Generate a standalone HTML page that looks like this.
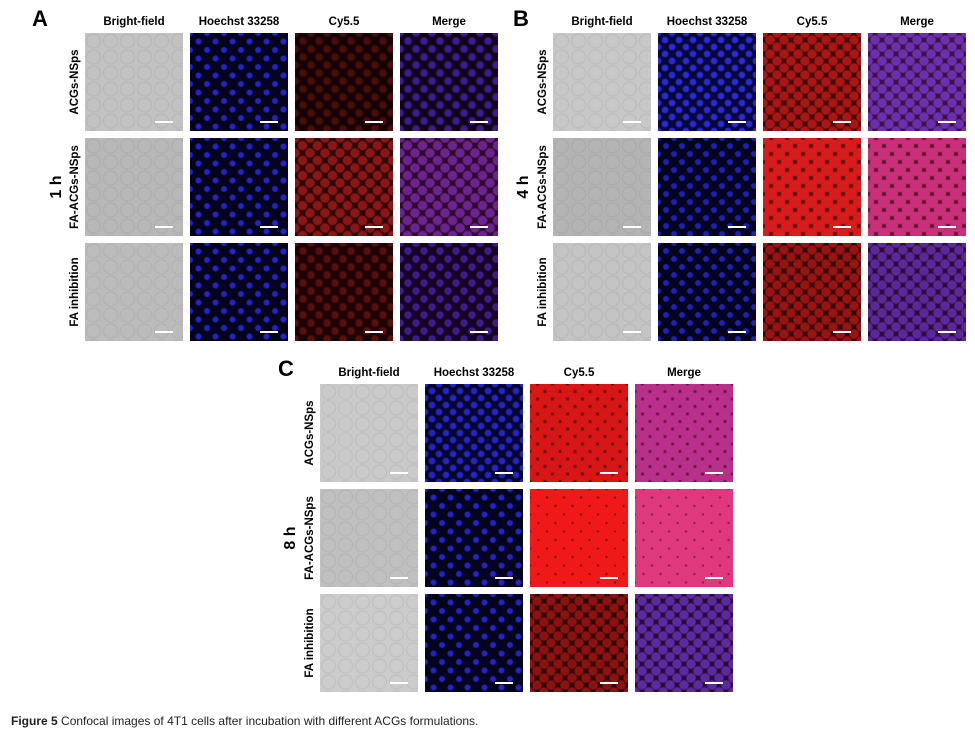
<!DOCTYPE html>
<html><head><meta charset="utf-8"><style>
body{margin:0;width:975px;height:732px;background:#fff;position:relative;overflow:hidden;font-family:"Liberation Sans",Arial,sans-serif}
.p{position:absolute;width:98px;height:98px}
.sb{position:absolute;right:10px;bottom:8px;width:18px;height:2px;background:#fff}
.h{position:absolute;font-weight:bold;font-size:11.5px;text-align:center;width:98px}
.L{position:absolute;font-weight:bold;font-size:22px}
.r{position:absolute;font-weight:bold;font-size:11.5px;transform:translate(-50%,-50%) rotate(-90deg);white-space:nowrap}
.t{position:absolute;font-weight:bold;font-size:16px;transform:translate(-50%,-50%) rotate(-90deg);white-space:nowrap}
.cap{position:absolute;left:11px;top:714px;font-size:12px;color:#222}
</style></head><body>
<div class="L" style="left:32px;top:6px">A</div>
<div class="L" style="left:513px;top:6px">B</div>
<div class="L" style="left:278px;top:356px">C</div>

<div class="h" style="left:85px;top:16px">Bright-field</div>
<div class="h" style="left:190px;top:16px">Hoechst 33258</div>
<div class="h" style="left:295px;top:16px">Cy5.5</div>
<div class="h" style="left:400px;top:16px">Merge</div>
<div class="h" style="left:553px;top:16px">Bright-field</div>
<div class="h" style="left:658px;top:16px">Hoechst 33258</div>
<div class="h" style="left:763px;top:16px">Cy5.5</div>
<div class="h" style="left:868px;top:16px">Merge</div>
<div class="h" style="left:320px;top:367px">Bright-field</div>
<div class="h" style="left:425px;top:367px">Hoechst 33258</div>
<div class="h" style="left:530px;top:367px">Cy5.5</div>
<div class="h" style="left:635px;top:367px">Merge</div>

<div class="r" style="left:75px;top:82px">ACGs-NSps</div>
<div class="r" style="left:75px;top:187px">FA-ACGs-NSps</div>
<div class="r" style="left:75px;top:292px">FA inhibition</div>
<div class="t" style="left:57px;top:187px">1 h</div>
<div class="r" style="left:543px;top:82px">ACGs-NSps</div>
<div class="r" style="left:543px;top:187px">FA-ACGs-NSps</div>
<div class="r" style="left:543px;top:292px">FA inhibition</div>
<div class="t" style="left:524px;top:187px">4 h</div>
<div class="r" style="left:310px;top:433px">ACGs-NSps</div>
<div class="r" style="left:310px;top:538px">FA-ACGs-NSps</div>
<div class="r" style="left:310px;top:643px">FA inhibition</div>
<div class="t" style="left:291px;top:538px">8 h</div>

<div class="cap"><b>Figure 5</b> Confocal images of 4T1 cells after incubation with different ACGs formulations.</div>

<div id="g"></div>
<script>
function bf(c){return "radial-gradient(circle at 50% 50%, rgba(0,0,0,0) 6px, rgba(60,60,60,.10) 7px, rgba(0,0,0,0) 8px) 0 0/17px 16px,"+c;}
function dots(col,bg,sz,r){return "radial-gradient(circle,"+col+" "+r+"px,rgba(0,0,0,0) "+(r+1.5)+"px) 0 0/"+sz+"px "+sz+"px,radial-gradient(circle,"+col+" "+r+"px,rgba(0,0,0,0) "+(r+1.5)+"px) "+(sz/2)+"px "+(sz/2)+"px/"+sz+"px "+sz+"px,"+bg;}
var blue=dots("#2424c8","#04041e",17,2.2);
var sets=[
 {x:[85,190,295,400],y:[33,138,243],rows:[
  [bf("#c2c2c2"),blue,dots("#4a0c0c","#160404",16,3),dots("#3a1c90","#12041c",16,3)],
  [bf("#b8b8b8"),blue,dots("#8a1616","#2a0606",15,4),dots("#6a2490","#300828",15,4)],
  [bf("#bcbcbc"),blue,dots("#5a0e0e","#1c0404",16,3),dots("#3e1c90","#160420",16,3)]]},
 {x:[553,658,763,868],y:[33,138,243],rows:[
  [bf("#c8c8c8"),dots("#2a2ad8","#070738",14,2.5),dots("#a81616","#3a0606",14,4),dots("#6a30b0","#40103a",14,4)],
  [bf("#b4b4b4"),dots("#2020b8","#04041e",16,2.2),dots("#d81c1c","#580606",16,5.5),dots("#c8307a","#600c2c",16,5.5)],
  [bf("#c4c4c4"),dots("#2020b8","#04041e",16,2.2),dots("#981414","#2c0404",14,4),dots("#5a2898","#300a34",14,4)]]},
 {x:[320,425,530,635],y:[384,489,594],rows:[
  [bf("#cacaca"),dots("#2424c8","#06062c",14,2.5),dots("#d81616","#480404",15,5.5),dots("#b8308a","#600c38",15,5.5)],
  [bf("#c0c0c0"),blue,dots("#f01818","#300202",17,7),dots("#e0387c","#480824",17,7)],
  [bf("#cccccc"),blue,dots("#8c1212","#260404",14,4),dots("#5a2aa0","#2c0830",14,4)]]}
];
var h="";
sets.forEach(function(s){s.rows.forEach(function(r,i){r.forEach(function(b,j){
 h+='<div class="p" style="left:'+s.x[j]+'px;top:'+s.y[i]+'px;background:'+b+'"><div class="sb"></div></div>';});});});
document.getElementById("g").innerHTML=h;
</script>
</body></html>
